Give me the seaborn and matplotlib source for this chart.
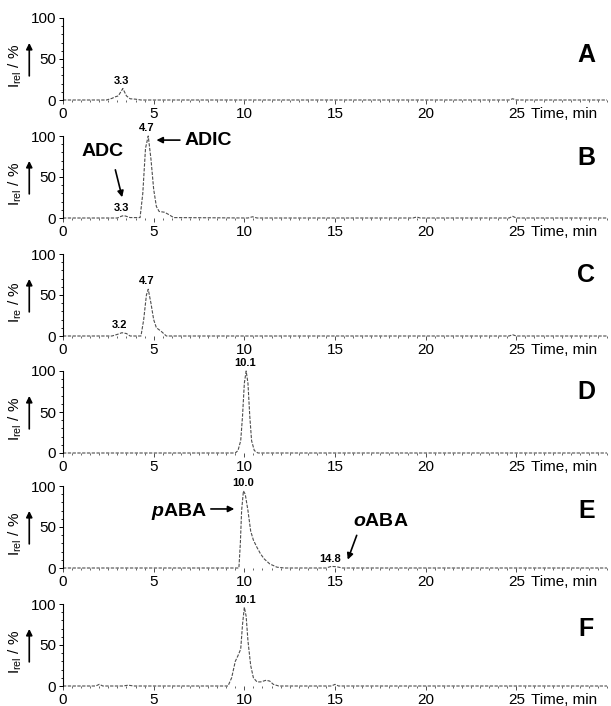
import seaborn as sns
import matplotlib.pyplot as plt
import pandas as pd

# chromatogram traces (time in min, relative intensity in %)
time_a = [0, 2.4, 2.7, 2.9, 3.05, 3.3, 3.5, 3.7, 4.0, 4.3, 24.6, 24.8, 25.0, 30]
int_a = [0, 0, 2, 4, 5, 14, 5, 1.5, 1, 0, 0, 1.5, 0, 0]

time_b = [0, 3.0, 3.2, 3.35, 3.5, 3.7, 4.25, 4.4, 4.55, 4.7, 4.85, 5.0, 5.15, 5.3, 5.6, 5.85, 6.1,
          10.2, 10.45, 10.7, 19.3, 19.5, 19.7, 24.6, 24.8, 25.0, 30]
int_b = [0, 0, 2, 3, 2, 0.5, 0.5, 30, 85, 100, 72, 35, 14, 8, 7, 4, 0.5,
         0, 1.5, 0, 0, 1.2, 0, 0, 2, 0, 0]

time_c = [0, 2.7, 3.0, 3.25, 3.5, 3.7, 4.3, 4.45, 4.6, 4.7, 4.85, 5.0, 5.15, 5.4, 5.7, 24.6, 24.8, 25.0, 30]
int_c = [0, 0, 2, 4, 3, 0, 0, 20, 50, 57, 40, 20, 10, 6, 0, 0, 1.5, 0, 0]

time_d = [0, 9.5, 9.65, 9.8, 9.9, 10.0, 10.1, 10.2, 10.3, 10.4, 10.55, 10.75, 30]
int_d = [0, 0, 3, 15, 45, 85, 100, 85, 45, 15, 3, 0, 0]

time_e = [0, 9.7, 9.78, 9.85, 9.95, 10.05, 10.2, 10.35, 10.5, 10.7, 10.9, 11.1, 11.4, 11.8, 12.2,
          14.5, 14.8, 15.1, 15.4, 30]
int_e = [0, 0, 30, 70, 94, 90, 70, 45, 34, 25, 17, 11, 5, 1, 0,
         0, 2, 1.5, 0, 0]

time_f = [0, 1.8, 2.0, 2.2, 3.3, 3.6, 3.9, 9.1, 9.3, 9.5, 9.65, 9.8, 9.9, 10.0, 10.1, 10.2, 10.35,
          10.5, 10.7, 10.9, 11.2, 11.4, 11.6, 11.9, 14.8, 15.0, 15.2, 30]
int_f = [0, 0, 2, 0, 0, 1, 0, 0, 10, 30, 37, 45, 75, 96, 85, 55, 25,
         10, 5, 5, 7, 6, 2, 0, 0, 2, 0, 0]

# labelled peaks (retention time, apex height)
peaks_a = [(3.3, 14)]
peaks_b = [(3.3, 3), (4.7, 100)]
peaks_c = [(3.2, 4), (4.7, 57)]
peaks_d = [(10.1, 100)]
peaks_e = [(10.0, 94), (14.8, 2)]
peaks_f = [(10.1, 96)]

panel_letters = ["A", "B", "C", "D", "E", "F"]
ylabel_subs = ["rel", "rel", "re", "rel", "rel", "rel"]

traces = [(time_a, int_a), (time_b, int_b), (time_c, int_c),
          (time_d, int_d), (time_e, int_e), (time_f, int_f)]
peaks = [peaks_a, peaks_b, peaks_c, peaks_d, peaks_e, peaks_f]

sns.set_style("ticks")
plt.rcParams['font.family'] = ['Liberation Sans', 'DejaVu Sans']
plt.rcParams['mathtext.fontset'] = 'custom'
plt.rcParams['mathtext.rm'] = 'Liberation Sans'
plt.rcParams['mathtext.it'] = 'Liberation Sans:italic:bold'
plt.rcParams['mathtext.bf'] = 'Liberation Sans:bold'
plt.rcParams['text.color'] = 'k'
plt.rcParams['xtick.color'] = 'k'
plt.rcParams['ytick.color'] = 'k'
plt.rcParams['axes.edgecolor'] = 'k'

W, H = 611, 706
fig = plt.figure(figsize=(W / 100, H / 100), dpi=100)

baselines = [100, 218, 336, 453, 568, 686]   # pixel rows of the zero line
letter_y = [0.55, 0.73, 0.74, 0.74, 0.69, 0.70]
left_px, right_px, height_px = 63, 607, 82

axes = []
for i, (t, y) in enumerate(traces):
    ax = fig.add_axes([left_px / W, (H - baselines[i]) / H,
                       (right_px - left_px) / W, height_px / H])
    axes.append(ax)
    df = pd.DataFrame({"time": t, "intensity": y})
    sns.lineplot(data=df, x="time", y="intensity", ax=ax, estimator=None,
                 color="0.3", linewidth=0.8, linestyle=(0, (3, 1.3)), clip_on=False)
    ax.set(xlabel="", ylabel="")
    ax.set_xlim(0, 30)
    ax.set_ylim(0, 100)
    ax.set_xticks([0, 5, 10, 15, 20, 25])
    ax.set_xticks([v * 0.5 for v in range(61)], minor=True)
    ax.set_yticks([0, 50, 100])
    ax.set_yticks(range(0, 101, 10), minor=True)
    for s in ["top", "right", "bottom"]:
        ax.spines[s].set_visible(False)
    ax.spines["left"].set_linewidth(0.8)
    ax.tick_params(axis="both", which="major", labelsize=11, length=3, width=0.7, pad=2)
    ax.tick_params(axis="both", which="minor", length=1.5, width=0.6)
    ax.tick_params(axis="x", which="both", color="0.3")

    ax.annotate("Time, min", xy=(25.8, 0), xycoords=("data", "axes fraction"),
                xytext=(0, -5), textcoords="offset points", ha="left", va="top", fontsize=11)

    ax.text(-0.088, 0.42, r"I$_{\mathrm{%s}}$ / %%" % ylabel_subs[i], rotation=90,
            transform=ax.transAxes, ha="center", va="center", fontsize=11)
    ax.annotate("", xy=(-0.062, 0.73), xytext=(-0.062, 0.26), xycoords="axes fraction",
                arrowprops=dict(arrowstyle="-|>", lw=1.2, color="k", mutation_scale=9))

    ax.text(0.962, letter_y[i], panel_letters[i], transform=ax.transAxes,
            ha="center", va="center", fontsize=18, fontweight="bold")

    for rt, h in peaks[i]:
        ax.annotate(f"{rt:.1f}", xy=(rt, h), xytext=(-1, 2), textcoords="offset points",
                    ha="center", va="bottom", fontsize=8, fontweight="bold")

# compound annotations
ax_b, ax_e = axes[1], axes[4]
ax_b.text(2.2, 81, "ADC", ha="center", va="center", fontsize=14, fontweight="bold")
ax_b.annotate("", xy=(3.3, 22), xytext=(2.85, 62),
              arrowprops=dict(arrowstyle="-|>", lw=1.2, color="k", mutation_scale=9))
ax_b.text(6.7, 95, "ADIC", ha="left", va="center", fontsize=14, fontweight="bold")
ax_b.annotate("", xy=(5.0, 95), xytext=(6.6, 95),
              arrowprops=dict(arrowstyle="-|>", lw=1.2, color="k", mutation_scale=9))

ax_e.text(6.4, 69, r"$\mathit{p}$ABA", ha="center", va="center", fontsize=14, fontweight="bold")
ax_e.annotate("", xy=(9.6, 72), xytext=(8.0, 72),
              arrowprops=dict(arrowstyle="-|>", lw=1.2, color="k", mutation_scale=9))
ax_e.text(17.55, 57, r"$\mathit{o}$ABA", ha="center", va="center", fontsize=14, fontweight="bold")
ax_e.annotate("", xy=(15.65, 7), xytext=(16.25, 43),
              arrowprops=dict(arrowstyle="-|>", lw=1.2, color="k", mutation_scale=9))

fig.savefig("out.png", dpi=100)
plt.close()
